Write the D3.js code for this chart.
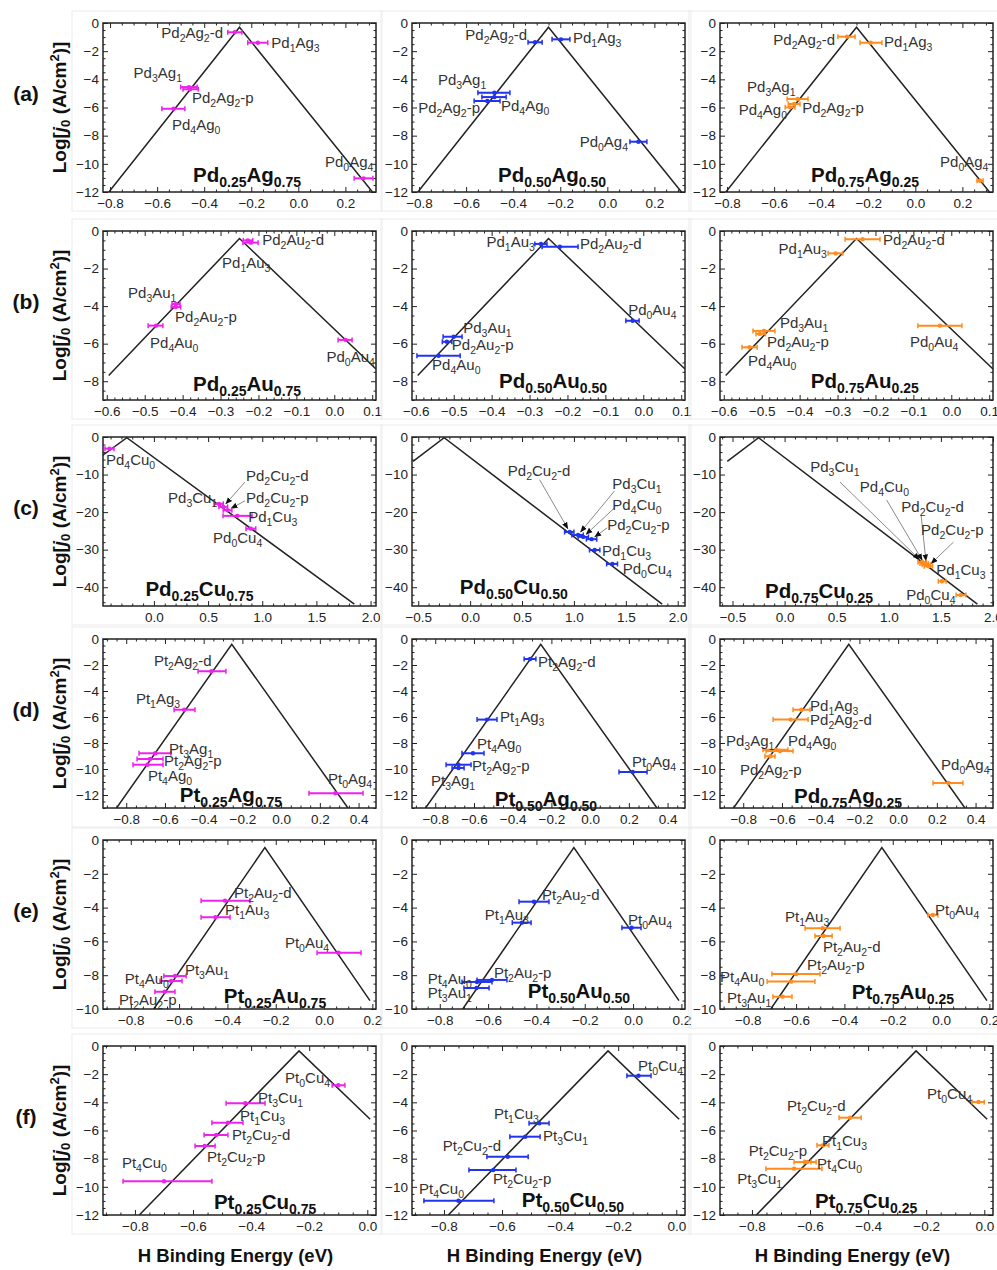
<!DOCTYPE html>
<html>
<head>
<meta charset="utf-8">
<script src="https://cdn.jsdelivr.net/npm/d3@7"></script>
<style>
  body { margin: 0; background: #fff; }
  svg { display: block; }
  text { font-family: "Liberation Sans", Arial, sans-serif; }
</style>
</head>
<body>
<div id="chart"></div>
<script>
// 6 rows (alloy systems) x 3 columns (composition), volcano + error bars

// ---------- data : [name, E, E low, E high, log j0] ----------
var pdAg25 = [["Pd2Ag2-d", -0.27, -0.30, -0.24, -0.66], ["Pd1Ag3", -0.172, -0.215, -0.13, -1.4],
  ["Pd3Ag1", -0.465, -0.50, -0.43, -4.55], ["Pd2Ag2-p", -0.46, -0.49, -0.425, -4.7],
  ["Pd4Ag0", -0.53, -0.58, -0.482, -6.09], ["Pd0Ag4", 0.277, 0.237, 0.317, -11.03]];
var pdAg50 = [["Pd2Ag2-d", -0.307, -0.337, -0.277, -1.37], ["Pd1Ag3", -0.197, -0.235, -0.159, -1.16],
  ["Pd3Ag1", -0.48, -0.55, -0.414, -4.95], ["Pd4Ag0", -0.48, -0.533, -0.43, -5.26],
  ["Pd2Ag2-p", -0.51, -0.566, -0.456, -5.54], ["Pd0Ag4", 0.132, 0.096, 0.168, -8.43]];
var pdAg75 = [["Pd2Ag2-d", -0.29, -0.329, -0.256, -0.97], ["Pd1Ag3", -0.19, -0.235, -0.142, -1.4],
  ["Pd3Ag1", -0.5, -0.545, -0.456, -5.4], ["Pd4Ag0", -0.532, -0.553, -0.511, -5.99],
  ["Pd2Ag2-p", -0.515, -0.54, -0.49, -5.75], ["Pd0Ag4", 0.275, 0.262, 0.288, -11.2]];

var pdAu25 = [["Pd2Au2-d", -0.22, -0.241, -0.201, -0.62], ["Pd1Au3", -0.228, -0.24, -0.215, -0.5],
  ["Pd3Au1", -0.418, -0.428, -0.407, -3.89], ["Pd2Au2-p", -0.418, -0.43, -0.405, -4.05],
  ["Pd4Au0", -0.47, -0.491, -0.452, -5.04], ["Pd0Au4", 0.03, 0.01, 0.047, -5.8]];
var pdAu50 = [["Pd1Au3", -0.27, -0.286, -0.254, -0.69], ["Pd2Au2-d", -0.22, -0.267, -0.172, -0.84],
  ["Pd0Au4", -0.028, -0.046, -0.011, -4.78], ["Pd3Au1", -0.5, -0.528, -0.478, -5.63],
  ["Pd2Au2-p", -0.518, -0.53, -0.505, -5.9], ["Pd4Au0", -0.54, -0.597, -0.483, -6.64]];
var pdAu75 = [["Pd2Au2-d", -0.234, -0.28, -0.188, -0.44], ["Pd1Au3", -0.305, -0.325, -0.286, -1.19],
  ["Pd3Au1", -0.494, -0.523, -0.465, -5.32], ["Pd2Au2-p", -0.505, -0.515, -0.49, -5.48],
  ["Pd4Au0", -0.532, -0.552, -0.512, -6.19], ["Pd0Au4", -0.03, -0.088, 0.028, -5.04]];

var pdCu25 = [["Pd4Cu0", -0.41, -0.452, -0.369, -3.1], ["Pd3Cu1", 0.6, 0.555, 0.64, -17.8],
  ["Pd2Cu2-d", 0.64, 0.6, 0.68, -18.6], ["Pd2Cu2-p", 0.68, 0.64, 0.72, -19.5],
  ["Pd1Cu3", 0.77, 0.638, 0.906, -21.0], ["Pd0Cu4", 0.895, 0.85, 0.94, -24.4]];
var pdCu50 = [["Pd2Cu2-d", 0.96, 0.91, 1.0, -25.3], ["Pd3Cu1", 1.04, 0.98, 1.09, -26.1],
  ["Pd4Cu0", 1.09, 1.04, 1.14, -26.6], ["Pd2Cu2-p", 1.17, 1.12, 1.22, -27.2],
  ["Pd1Cu3", 1.2, 1.15, 1.25, -30.1], ["Pd0Cu4", 1.37, 1.315, 1.42, -33.8]];
var pdCu75 = [["Pd3Cu1", 1.32, 1.28, 1.36, -33.3], ["Pd4Cu0", 1.34, 1.30, 1.38, -33.7],
  ["Pd2Cu2-d", 1.36, 1.32, 1.40, -34.0], ["Pd2Cu2-p", 1.38, 1.34, 1.42, -34.4],
  ["Pd1Cu3", 1.51, 1.475, 1.55, -38.4], ["Pd0Cu4", 1.69, 1.646, 1.74, -42.1]];

var ptAg25 = [["Pt2Ag2-d", -0.36, -0.429, -0.285, -2.48], ["Pt1Ag3", -0.5, -0.553, -0.445, -5.44],
  ["Pt3Ag1", -0.65, -0.734, -0.569, -8.79], ["Pt2Ag2-p", -0.677, -0.744, -0.61, -9.23],
  ["Pt4Ag0", -0.69, -0.765, -0.61, -9.67], ["Pt0Ag4", 0.28, 0.144, 0.423, -11.87]];
var ptAg50 = [["Pt2Ag2-d", -0.31, -0.341, -0.28, -1.54], ["Pt1Ag3", -0.533, -0.584, -0.481, -6.2],
  ["Pt4Ag0", -0.605, -0.662, -0.548, -8.79], ["Pt2Ag2-p", -0.68, -0.744, -0.615, -9.67],
  ["Pt3Ag1", -0.68, -0.713, -0.651, -9.92], ["Pt0Ag4", 0.22, 0.149, 0.294, -10.23]];
var ptAg75 = [["Pd1Ag3", -0.5, -0.543, -0.455, -5.44], ["Pd2Ag2-d", -0.555, -0.646, -0.465, -6.2],
  ["Pd3Ag1", -0.63, -0.698, -0.569, -8.52], ["Pd4Ag0", -0.61, -0.682, -0.543, -8.62],
  ["Pd2Ag2-p", -0.66, -0.688, -0.636, -9.02], ["Pd0Ag4", 0.26, 0.18, 0.335, -11.08]];

var ptAu25 = [["Pt2Au2-d", -0.41, -0.509, -0.307, -3.59], ["Pt1Au3", -0.45, -0.509, -0.389, -4.57],
  ["Pt0Au4", 0.06, -0.029, 0.153, -6.67], ["Pt3Au1", -0.617, -0.663, -0.571, -8.05],
  ["Pt4Au0", -0.633, -0.679, -0.588, -8.34], ["Pt2Au2-p", -0.66, -0.7, -0.617, -8.98]];
var ptAu50 = [["Pt2Au2-d", -0.41, -0.472, -0.348, -3.65], ["Pt1Au3", -0.46, -0.5, -0.422, -4.89],
  ["Pt0Au4", -0.006, -0.046, 0.033, -5.19], ["Pt2Au2-p", -0.584, -0.646, -0.522, -8.28],
  ["Pt4Au0", -0.646, -0.708, -0.584, -8.4], ["Pt3Au1", -0.648, -0.7, -0.596, -8.76]];
var ptAu75 = [["Pt0Au4", -0.034, -0.054, -0.013, -4.44], ["Pt1Au3", -0.49, -0.563, -0.418, -5.22],
  ["Pt2Au2-d", -0.486, -0.522, -0.451, -5.68], ["Pt2Au2-p", -0.6, -0.7, -0.501, -7.93],
  ["Pt4Au0", -0.62, -0.72, -0.522, -8.38], ["Pt3Au1", -0.656, -0.696, -0.617, -9.27]];

var ptCu25 = [["Pt0Cu4", -0.1, -0.121, -0.077, -2.79], ["Pt3Cu1", -0.42, -0.486, -0.352, -4.07],
  ["Pt1Cu3", -0.48, -0.535, -0.428, -5.45], ["Pt2Cu2-d", -0.52, -0.562, -0.48, -6.32],
  ["Pt2Cu2-p", -0.56, -0.593, -0.524, -7.1], ["Pt4Cu0", -0.7, -0.841, -0.535, -9.6]];
var ptCu50 = [["Pt0Cu4", -0.13, -0.17, -0.087, -2.11], ["Pt1Cu3", -0.472, -0.507, -0.438, -5.49],
  ["Pt3Cu1", -0.52, -0.573, -0.469, -6.44], ["Pt2Cu2-d", -0.58, -0.652, -0.51, -7.86],
  ["Pt2Cu2-p", -0.63, -0.714, -0.552, -8.81], ["Pt4Cu0", -0.75, -0.869, -0.628, -10.99]];
var ptCu75 = [["Pt0Cu4", -0.02, -0.042, 0.0, -3.98], ["Pt2Cu2-d", -0.462, -0.5, -0.424, -5.09],
  ["Pt1Cu3", -0.555, -0.576, -0.535, -7.05], ["Pt2Cu2-p", -0.617, -0.655, -0.579, -8.24],
  ["Pt4Cu0", -0.61, -0.62, -0.597, -8.24], ["Pt3Cu1", -0.655, -0.752, -0.559, -8.71]];

// label anchors in data units : [E, log j0, anchor]
var pdAg25Lab = [[-0.32, -0.7, "end"], [-0.115, -1.45, "start"], [-0.70, -3.55, "start"], [-0.452, -5.33, "start"], [-0.537, -7.24, "start"], [0.113, -9.87, "start"]];
var pdAg50Lab = [[-0.341, -0.85, "end"], [-0.146, -1.07, "start"], [-0.72, -4.05, "start"], [-0.452, -5.9, "start"], [-0.541, -6.04, "end"], [0.088, -8.45, "end"]];
var pdAg75Lab = [[-0.341, -1.21, "end"], [-0.133, -1.35, "start"], [-0.715, -4.55, "start"], [-0.545, -6.18, "end"], [-0.481, -6.04, "start"], [0.105, -9.87, "start"]];
var pdAu25Lab = [[-0.19, -0.48, "start"], [-0.296, -1.7, "start"], [-0.544, -3.3, "start"], [-0.42, -4.58, "start"], [-0.486, -5.96, "start"], [0.107, -6.71, "end"]];
var pdAu50Lab = [[-0.286, -0.59, "end"], [-0.167, -0.69, "start"], [-0.04, -4.2, "start"], [-0.475, -5.17, "start"], [-0.505, -6.07, "start"], [-0.557, -7.14, "start"]];
var pdAu75Lab = [[-0.18, -0.48, "start"], [-0.328, -0.96, "end"], [-0.452, -4.9, "start"], [-0.486, -5.91, "start"], [-0.536, -6.92, "start"], [-0.109, -5.91, "start"]];
var pdCu25Lab = [[-0.443, -6.1, "start"], [0.585, -16.2, "end"], [0.85, -10.4, "start"], [0.85, -16.2, "start"], [0.87, -21.3, "start"], [1.0, -26.9, "end"]];
var pdCu50Lab = [[0.363, -9.05, "start"], [1.37, -12.5, "start"], [1.37, -18.1, "start"], [1.32, -23.4, "start"], [1.27, -30.4, "start"], [1.47, -35.1, "start"]];
var pdCu75Lab = [[0.246, -8.0, "start"], [0.722, -13.3, "start"], [1.12, -18.7, "start"], [1.31, -24.8, "start"], [1.456, -35.5, "start"], [1.64, -42.1, "end"]];
var ptAg25Lab = [[-0.657, -1.69, "start"], [-0.75, -4.62, "start"], [-0.579, -8.46, "start"], [-0.605, -9.38, "start"], [-0.688, -10.54, "start"], [0.242, -10.77, "start"]];
var ptAg50Lab = [[-0.269, -1.77, "start"], [-0.465, -6.0, "start"], [-0.584, -8.08, "start"], [-0.61, -9.77, "start"], [-0.822, -10.92, "start"], [0.216, -9.46, "start"]];
var ptAg75Lab = [[-0.455, -5.15, "start"], [-0.455, -6.23, "start"], [-0.889, -7.85, "start"], [-0.569, -7.85, "start"], [-0.817, -10.08, "start"], [0.222, -9.69, "start"]];
var ptAu25Lab = [[-0.373, -3.14, "start"], [-0.41, -4.14, "start"], [-0.162, -6.09, "start"], [-0.576, -7.69, "start"], [-0.642, -8.22, "end"], [-0.849, -9.47, "start"]];
var ptAu50Lab = [[-0.377, -3.25, "start"], [-0.431, -4.44, "end"], [-0.021, -4.73, "start"], [-0.576, -7.87, "start"], [-0.667, -8.22, "end"], [-0.667, -9.05, "end"]];
var ptAu75Lab = [[-0.025, -4.14, "start"], [-0.646, -4.56, "start"], [-0.489, -6.33, "start"], [-0.555, -7.4, "start"], [-0.915, -8.11, "start"], [-0.886, -9.35, "start"]];
var ptCu25Lab = [[-0.128, -2.27, "end"], [-0.376, -3.69, "start"], [-0.438, -4.97, "start"], [-0.466, -6.32, "start"], [-0.552, -7.88, "start"], [-0.845, -8.31, "start"]];
var ptCu50Lab = [[-0.132, -1.42, "start"], [-0.628, -4.83, "start"], [-0.459, -6.39, "start"], [-0.603, -7.1, "end"], [-0.631, -9.45, "start"], [-0.886, -10.16, "start"]];
var ptCu75Lab = [[-0.042, -3.41, "end"], [-0.679, -4.26, "start"], [-0.559, -6.75, "start"], [-0.61, -7.46, "end"], [-0.576, -8.38, "start"], [-0.851, -9.45, "start"]];

// arrow tails for the crowded Cu panels (null = no arrow)
var pdCu25Arrows = [null, null, [0.84, -12.0], [0.84, -17.0], null, null];
var pdCu50Arrows = [[0.67, -11.4], [1.39, -14.4], [1.39, -18.9], [1.32, -24.2], null, null];
var pdCu75Arrows = [[0.532, -12.0], [0.98, -16.8], [1.31, -20.8], [1.62, -28.0], null, null];

// volcano vertices per row
var volcA = [[-0.805, -12], [-0.25, -0.3], [0.315, -12]];
var volcB = [[-0.595, -7.7], [-0.25, -0.4], [0.11, -7.35]];
var volcC = [[-0.55, -6.5], [-0.25, -0.2], [1.85, -44.5]];
var volcD = [[-0.85, -13], [-0.255, -0.4], [0.345, -13]];
var volcE = [[-0.705, -10], [-0.245, -0.45], [0.19, -9.5]];
var volcF = [[-0.785, -12], [-0.235, -0.35], [0.01, -5.2]];

// titles and their anchors
var titlesA = ["Pd0.25Ag0.75", "Pd0.50Ag0.50", "Pd0.75Ag0.25"];
var titlesB = ["Pd0.25Au0.75", "Pd0.50Au0.50", "Pd0.75Au0.25"];
var titlesC = ["Pd0.25Cu0.75", "Pd0.50Cu0.50", "Pd0.75Cu0.25"];
var titlesD = ["Pt0.25Ag0.75", "Pt0.50Ag0.50", "Pd0.75Ag0.25"];
var titlesE = ["Pt0.25Au0.75", "Pt0.50Au0.50", "Pt0.75Au0.25"];
var titlesF = ["Pt0.25Cu0.75", "Pt0.50Cu0.50", "Pt0.75Cu0.25"];
var titlePosA = [[-0.218, -10.94], [-0.235, -10.94], [-0.214, -10.94]];
var titlePosB = [[-0.23, -8.25], [-0.238, -8.09], [-0.228, -8.09]];
var titlePosC = [[0.42, -41.0], [0.42, -40.6], [0.33, -41.6]];
var titlePosD = [[-0.259, -12.15], [-0.228, -12.46], [-0.259, -12.23]];
var titlePosE = [[-0.203, -9.35], [-0.224, -9.05], [-0.158, -9.11]];
var titlePosF = [[-0.352, -11.2], [-0.356, -11.08], [-0.407, -11.15]];

// axis ranges / ticks
var xTicksA = [-0.8, -0.6, -0.4, -0.2, 0, 0.2];
var xTicksB = [-0.6, -0.5, -0.4, -0.3, -0.2, -0.1, 0, 0.1];
var xTicksC1 = [0, 0.5, 1, 1.5, 2];
var xTicksC = [-0.5, 0, 0.5, 1, 1.5, 2];
var xTicksD = [-0.8, -0.6, -0.4, -0.2, 0, 0.2, 0.4];
var xTicksE = [-0.8, -0.6, -0.4, -0.2, 0, 0.2];
var xTicksF = [-0.8, -0.6, -0.4, -0.2, 0];
var yTicksA = [0, -2, -4, -6, -8, -10, -12];
var yTicksB = [0, -2, -4, -6, -8];
var yTicksC = [0, -10, -20, -30, -40];
var yTicksD = [0, -2, -4, -6, -8, -10, -12];
var yTicksE = [0, -2, -4, -6, -8, -10];
var yTicksF = [0, -2, -4, -6, -8, -10, -12];

var rowLetters = ["(a)", "(b)", "(c)", "(d)", "(e)", "(f)"];

// ---------- assemble ----------
var rows = [
  { yDom: [-12, 0], yTicks: yTicksA, yMinor: 0.5, xMinor: 0.05, volc: volcA,
    panels: [
      { data: pdAg25, lab: pdAg25Lab, xDom: [-0.83, 0.33], xTicks: xTicksA },
      { data: pdAg50, lab: pdAg50Lab, xDom: [-0.83, 0.33], xTicks: xTicksA },
      { data: pdAg75, lab: pdAg75Lab, xDom: [-0.83, 0.33], xTicks: xTicksA }],
    titles: titlesA, tpos: titlePosA },
  { yDom: [-9, 0], yTicks: yTicksB, yMinor: 0.5, xMinor: 0.02, volc: volcB,
    panels: [
      { data: pdAu25, lab: pdAu25Lab, xDom: [-0.61, 0.11], xTicks: xTicksB },
      { data: pdAu50, lab: pdAu50Lab, xDom: [-0.61, 0.11], xTicks: xTicksB },
      { data: pdAu75, lab: pdAu75Lab, xDom: [-0.61, 0.11], xTicks: xTicksB }],
    titles: titlesB, tpos: titlePosB },
  { yDom: [-45, 0], yTicks: yTicksC, yMinor: 2, xMinor: 0.1, volc: volcC,
    panels: [
      { data: pdCu25, lab: pdCu25Lab, arrows: pdCu25Arrows, xDom: [-0.47, 2.05], xTicks: xTicksC1 },
      { data: pdCu50, lab: pdCu50Lab, arrows: pdCu50Arrows, xDom: [-0.56, 2.07], xTicks: xTicksC },
      { data: pdCu75, lab: pdCu75Lab, arrows: pdCu75Arrows, xDom: [-0.62, 2.0], xTicks: xTicksC }],
    titles: titlesC, tpos: titlePosC },
  { yDom: [-13, 0], yTicks: yTicksD, yMinor: 0.5, xMinor: 0.05, volc: volcD,
    panels: [
      { data: ptAg25, lab: ptAg25Lab, xDom: [-0.92, 0.49], xTicks: xTicksD },
      { data: ptAg50, lab: ptAg50Lab, xDom: [-0.92, 0.49], xTicks: xTicksD },
      { data: ptAg75, lab: ptAg75Lab, xDom: [-0.92, 0.49], xTicks: xTicksD }],
    titles: titlesD, tpos: titlePosD },
  { yDom: [-10, 0], yTicks: yTicksE, yMinor: 0.5, xMinor: 0.05, volc: volcE,
    panels: [
      { data: ptAu25, lab: ptAu25Lab, xDom: [-0.915, 0.215], xTicks: xTicksE },
      { data: ptAu50, lab: ptAu50Lab, xDom: [-0.915, 0.215], xTicks: xTicksE },
      { data: ptAu75, lab: ptAu75Lab, xDom: [-0.915, 0.215], xTicks: xTicksE }],
    titles: titlesE, tpos: titlePosE },
  { yDom: [-12, 0], yTicks: yTicksF, yMinor: 0.5, xMinor: 0.05, volc: volcF,
    panels: [
      { data: ptCu25, lab: ptCu25Lab, xDom: [-0.91, 0.03], xTicks: xTicksF },
      { data: ptCu50, lab: ptCu50Lab, xDom: [-0.91, 0.03], xTicks: xTicksF },
      { data: ptCu75, lab: ptCu75Lab, xDom: [-0.91, 0.03], xTicks: xTicksF }],
    titles: titlesF, tpos: titlePosF }
];

var W = 997, H = 1270;
var colX = [103, 412, 720], colW = 273;
var rowY = [23, 231, 437, 639, 840, 1046], rowH = 169;
var colors = ["#ee22ee", "#2233ee", "#ff8c1f"];
var FONT = "'Liberation Sans', Arial, sans-serif";

var svg = d3.select("#chart").append("svg")
  .attr("width", W)
  .attr("height", H);

var defs = svg.append("defs");
defs.append("marker")
  .attr("id", "arrowHead")
  .attr("viewBox", "0 0 10 10")
  .attr("refX", 9).attr("refY", 5)
  .attr("markerWidth", 7).attr("markerHeight", 7)
  .attr("markerUnits", "userSpaceOnUse")
  .attr("orient", "auto")
  .append("path").attr("d", "M0,1 L10,5 L0,9 Z").attr("fill", "#111");

// formula text with numeric subscripts
function chem(sel, str, size, subSize, shift) {
  var re = /([A-Z][a-z]?)([0-9.]+)/g, last = 0, m, down = false;
  while ((m = re.exec(str)) !== null) {
    if (m.index > last) {
      sel.append("tspan").attr("font-size", size).attr("dy", down ? -shift : 0).text(str.slice(last, m.index));
      down = false;
    }
    sel.append("tspan").attr("font-size", size).attr("dy", down ? -shift : 0).text(m[1]);
    sel.append("tspan").attr("font-size", subSize).attr("dy", shift).text(m[2]);
    down = true;
    last = re.lastIndex;
  }
  if (last < str.length) {
    sel.append("tspan").attr("font-size", size).attr("dy", down ? -shift : 0).text(str.slice(last));
  }
}

function minorVals(dom, step, majors) {
  var out = [], s = Math.ceil(dom[0] / step - 1e-9), e = Math.floor(dom[1] / step + 1e-9);
  for (var i = s; i <= e; i++) {
    var v = +(i * step).toFixed(6);
    if (!majors.some(function (m) { return Math.abs(m - v) < 1e-6; })) out.push(v);
  }
  return out;
}

function styleAxis(g) {
  g.select(".domain").remove();
  g.attr("font-family", FONT).attr("font-size", 13.5).attr("color", "#222");
}

rows.forEach(function (row, ri) {
  var top = rowY[ri];
  row.panels.forEach(function (p, ci) {
    var left = colX[ci];
    var x = d3.scaleLinear().domain(p.xDom).range([0, colW]);
    var y = d3.scaleLinear().domain(row.yDom).range([rowH, 0]);

    // faint sub-figure border
    svg.append("rect")
      .attr("x", left - 31).attr("y", top - 12)
      .attr("width", colW + 37).attr("height", rowH + 31)
      .attr("fill", "none").attr("stroke", "#ececec").attr("stroke-width", 1);

    var g = svg.append("g").attr("transform", "translate(" + left + "," + top + ")");
    var clipId = "clip" + ri + "_" + ci;
    defs.append("clipPath").attr("id", clipId)
      .append("rect").attr("width", colW).attr("height", rowH);

    // frame ticks, all four sides, pointing inward
    var xMin = minorVals(p.xDom, row.xMinor, p.xTicks);
    var yMin = minorVals(row.yDom, row.yMinor, row.yTicks);
    g.append("g").attr("transform", "translate(0," + rowH + ")")
      .call(d3.axisBottom(x).tickValues(p.xTicks).tickSize(-5).tickPadding(6).tickFormat(d3.format(".1f")))
      .call(styleAxis);
    g.append("g").attr("transform", "translate(0," + rowH + ")")
      .call(d3.axisBottom(x).tickValues(xMin).tickSize(-2.5).tickFormat(""))
      .call(styleAxis);
    g.append("g")
      .call(d3.axisTop(x).tickValues(p.xTicks).tickSize(-5).tickFormat(""))
      .call(styleAxis);
    g.append("g")
      .call(d3.axisTop(x).tickValues(xMin).tickSize(-2.5).tickFormat(""))
      .call(styleAxis);
    g.append("g")
      .call(d3.axisLeft(y).tickValues(row.yTicks).tickSize(-5).tickPadding(4).tickFormat(d3.format("d")))
      .call(styleAxis);
    g.append("g")
      .call(d3.axisLeft(y).tickValues(yMin).tickSize(-2.5).tickFormat(""))
      .call(styleAxis);
    g.append("g").attr("transform", "translate(" + colW + ",0)")
      .call(d3.axisRight(y).tickValues(row.yTicks).tickSize(-5).tickFormat(""))
      .call(styleAxis);
    g.append("g").attr("transform", "translate(" + colW + ",0)")
      .call(d3.axisRight(y).tickValues(yMin).tickSize(-2.5).tickFormat(""))
      .call(styleAxis);

    // volcano line
    g.append("path")
      .datum(row.volc)
      .attr("clip-path", "url(#" + clipId + ")")
      .attr("fill", "none")
      .attr("stroke", "#222")
      .attr("stroke-width", 1.5)
      .attr("d", d3.line().x(function (d) { return x(d[0]); }).y(function (d) { return y(d[1]); }));

    // arrows (Cu rows)
    if (p.arrows) {
      p.arrows.forEach(function (a, i) {
        if (!a) return;
        var d = p.data[i];
        var x1 = x(a[0]), y1 = y(a[1]), x2 = x(d[1]), y2 = y(d[4]);
        var len = Math.hypot(x2 - x1, y2 - y1), k = (len - 4) / len;
        g.append("line")
          .attr("x1", x1).attr("y1", y1)
          .attr("x2", x1 + (x2 - x1) * k).attr("y2", y1 + (y2 - y1) * k)
          .attr("stroke", "#8a8a8a").attr("stroke-width", 1)
          .attr("marker-end", "url(#arrowHead)");
      });
    }

    // error bars
    var col = colors[ci];
    var bars = g.append("g").selectAll("g").data(p.data).enter().append("g");
    bars.append("line")
      .attr("x1", function (d) { return x(d[2]); })
      .attr("x2", function (d) { return x(d[3]); })
      .attr("y1", function (d) { return y(d[4]); })
      .attr("y2", function (d) { return y(d[4]); })
      .attr("stroke", col).attr("stroke-width", 2);
    [2, 3].forEach(function (k) {
      bars.append("line")
        .attr("x1", function (d) { return x(d[k]); })
        .attr("x2", function (d) { return x(d[k]); })
        .attr("y1", function (d) { return y(d[4]) - 2.5; })
        .attr("y2", function (d) { return y(d[4]) + 2.5; })
        .attr("stroke", col).attr("stroke-width", 1.5);
    });
    bars.append("circle")
      .attr("cx", function (d) { return x(d[1]); })
      .attr("cy", function (d) { return y(d[4]); })
      .attr("r", 2.2)
      .attr("fill", col);

    // point labels
    p.data.forEach(function (d, i) {
      var L = p.lab[i];
      var t = g.append("text")
        .attr("x", x(L[0])).attr("y", y(L[1]) + 5)
        .attr("text-anchor", L[2])
        .attr("fill", "#333");
      chem(t, d[0], 15, 10.5, 4);
    });

    // composition title
    var tp = row.tpos[ci];
    var tt = g.append("text")
      .attr("x", x(tp[0])).attr("y", y(tp[1]) + 5)
      .attr("text-anchor", "middle")
      .attr("font-weight", "bold")
      .attr("fill", "#111");
    chem(tt, row.titles[ci], 20.5, 14, 5);

    // frame
    g.append("rect")
      .attr("width", colW).attr("height", rowH)
      .attr("fill", "none").attr("stroke", "#222").attr("stroke-width", 1.5);
  });

  // row letter and y-axis title
  var cy = top + rowH / 2;
  svg.append("text")
    .attr("x", 26).attr("y", cy - 14 + 7)
    .attr("text-anchor", "middle")
    .attr("font-weight", "bold").attr("font-size", 21)
    .attr("fill", "#111")
    .text(rowLetters[ri]);

  var yt = svg.append("text")
    .attr("transform", "translate(66," + cy + ") rotate(-90)")
    .attr("text-anchor", "middle")
    .attr("font-weight", "bold").attr("font-size", 19)
    .attr("fill", "#111");
  yt.append("tspan").text("Log[");
  yt.append("tspan").attr("font-style", "italic").text("j");
  yt.append("tspan").attr("font-size", 13).attr("dy", 4).text("0");
  yt.append("tspan").attr("dy", -4).text(" (A/cm");
  yt.append("tspan").attr("font-size", 13).attr("dy", -7).text("2");
  yt.append("tspan").attr("dy", 7).text(")]");
});

// x-axis titles
colX.forEach(function (l) {
  svg.append("text")
    .attr("x", l + colW / 2 - 4).attr("y", 1262)
    .attr("text-anchor", "middle")
    .attr("font-weight", "bold").attr("font-size", 18.5)
    .attr("fill", "#111")
    .text("H Binding Energy (eV)");
});
</script>
</body>
</html>
